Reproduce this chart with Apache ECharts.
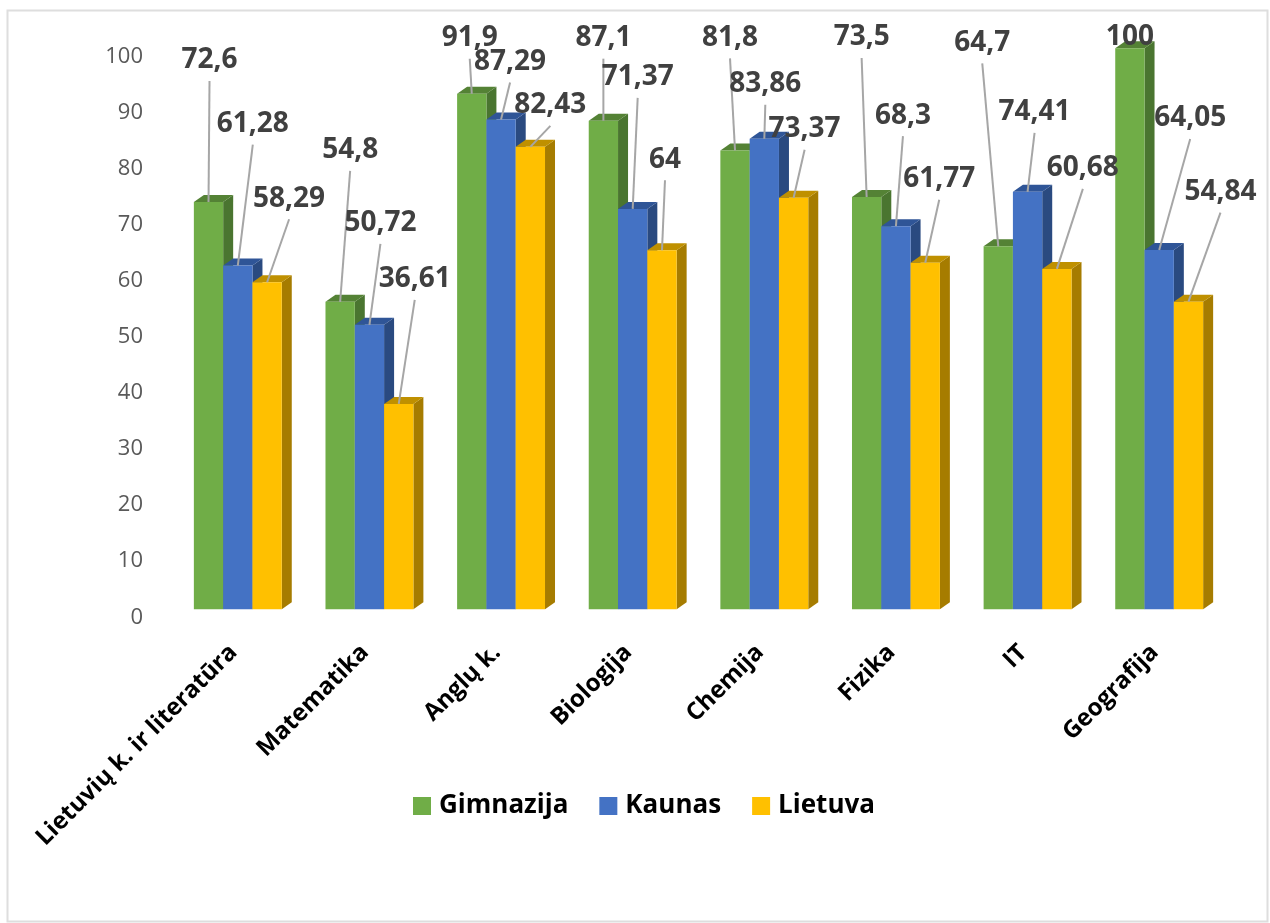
<!DOCTYPE html>
<html><head><meta charset="utf-8">
<style>html,body{margin:0;padding:0;background:#fff}#c{width:1270px;height:923px}</style>
<script src="https://cdn.jsdelivr.net/npm/echarts@6/dist/echarts.min.js"></script>
</head><body><div id="c"></div>
<script>
const categories = ['Lietuvių k. ir literatūra','Matematika','Anglų k.','Biologija','Chemija','Fizika','IT','Geografija'];
const gimnazija = [72.6,54.8,91.9,87.1,81.8,73.5,64.7,100];
const kaunas = [61.28,50.72,87.29,71.37,83.86,68.3,74.41,64.05];
const lietuva = [58.29,36.61,82.43,64,73.37,61.77,60.68,54.84];
const valueText = {
  Gimnazija: ['72,6','54,8','91,9','87,1','81,8','73,5','64,7','100'],
  Kaunas: ['61,28','50,72','87,29','71,37','83,86','68,3','74,41','64,05'],
  Lietuva: ['58,29','36,61','82,43','64','73,37','61,77','60,68','54,84']
};
const labelOffsets = {
  Gimnazija: [[1,-143],[10,-153],[-2,-57],[0,-84],[-5,-114],[-5,-161],[-16,-205],[0,-13]],
  Kaunas: [[15,-143],[11,-103],[9,-59],[5,-133],[1,-56],[7,-112],[7,-81],[31,-133]],
  Lietuva: [[22,-85],[16,-126],[20,-43],[3,-92],[11,-70],[14,-85],[26,-102],[32,-111]]
};
const palette = {
  Gimnazija: {front:'#70AD47', top:'#548235', side:'#4A7530'},
  Kaunas: {front:'#4472C4', top:'#2F5597', side:'#2A4A80'},
  Lietuva: {front:'#FFC000', top:'#BF9000', side:'#A67C00'}
};
const FONT = '"Open Sans","Noto Sans",sans-serif';
const DX = 10, DY = 7, BAR_RATIO = 0.2226;

function barSeries(name, values, idx){
  const c = palette[name];
  return {
    name, type:'custom', coordinateSystem:'cartesian2d', z:2+idx,
    itemStyle:{color:c.front},
    encode:{x:0,y:1},
    data: values.map((v,i)=>[i,v]),
    renderItem(params, api){
      const p = api.coord([api.value(0), api.value(1)]);
      const b = api.coord([api.value(0), 0]);
      const band = api.size([1,0])[0];
      const w = band*BAR_RATIO;
      const x = p[0] + (idx-1.5)*w;
      const y = p[1], y0 = b[1];
      return {type:'group', children:[
        {type:'polygon', shape:{points:[[x+w,y],[x+w+DX,y-DY],[x+w+DX,y0-DY],[x+w,y0]]}, style:{fill:c.side}},
        {type:'polygon', shape:{points:[[x,y],[x+DX,y-DY],[x+w+DX,y-DY],[x+w,y]]}, style:{fill:c.top}},
        {type:'rect', shape:{x,y,width:w,height:y0-y}, style:{fill:c.front}}
      ]};
    }
  };
}
function labelSeries(name, values, idx){
  return {
    type:'custom', coordinateSystem:'cartesian2d', z:10, silent:true,
    encode:{x:0,y:1},
    data: values.map((v,i)=>[i,v]),
    renderItem(params, api){
      const i = api.value(0);
      const p = api.coord([i, api.value(1)]);
      const w = api.size([1,0])[0]*BAR_RATIO;
      const cx = p[0] + (idx-1)*w, y = p[1];
      const o = labelOffsets[name][i];
      const lx = cx+o[0], ly = y+o[1];
      const kids = [];
      if (ly+22 < y-2) kids.push({type:'line', shape:{x1:lx, y1:ly+22, x2:cx, y2:y}, style:{stroke:'#A6A6A6', lineWidth:2}});
      kids.push({type:'text', style:{x:lx, y:ly+1.5, text:valueText[name][i], fill:'#404040',
        font:'bold 28px '+FONT, textAlign:'center', textVerticalAlign:'middle'}});
      return {type:'group', children:kids};
    }
  };
}
const chart = echarts.init(document.getElementById('c'), null, {renderer:'canvas'});
chart.setOption({
  animation:false,
  backgroundColor:'#fff',
  graphic:[{type:'rect', shape:{x:7.5,y:10.5,width:1260,height:911}, style:{fill:'none', stroke:'#DEDEDE', lineWidth:2}, silent:true, z:0}],
  legend:{
    left:408, top:788, itemWidth:18, itemHeight:18, itemGap:31, icon:'rect',
    data:['Gimnazija','Kaunas','Lietuva'],
    textStyle:{fontSize:26, fontWeight:'bold', color:'#000', fontFamily:FONT, padding:[0,0,0,3]}
  },
  grid:{left:172, width:1053, top:48.3, height:561, containLabel:false},
  xAxis:{type:'category', data:categories, axisLine:{show:false}, axisTick:{show:false}, splitLine:{show:false},
    axisLabel:{interval:0, rotate:45, margin:35, fontSize:24, fontWeight:'bold', color:'#000', fontFamily:FONT, formatter:v=>v+' '}},
  yAxis:{type:'value', min:0, max:100, interval:10, axisLine:{show:false}, axisTick:{show:false}, splitLine:{show:false},
    axisLabel:{margin:29, fontSize:22, color:'#595959', fontFamily:FONT, verticalAlign:'top', lineHeight:16}},
  series:[
    barSeries('Gimnazija', gimnazija, 0),
    barSeries('Kaunas', kaunas, 1),
    barSeries('Lietuva', lietuva, 2),
    labelSeries('Gimnazija', gimnazija, 0),
    labelSeries('Kaunas', kaunas, 1),
    labelSeries('Lietuva', lietuva, 2)
  ]
});
</script></body></html>
